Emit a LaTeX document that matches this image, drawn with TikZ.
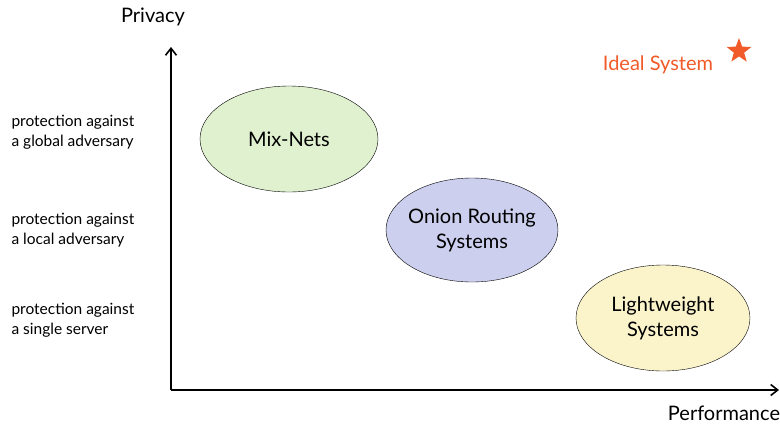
\documentclass[tikz,border=0pt]{standalone}
\usepackage{fontspec}
\setmainfont{Lato}
\usetikzlibrary{shapes.geometric,arrows.meta}
\definecolor{idealorange}{HTML}{F15A29}
\begin{document}
\begin{tikzpicture}[x=1pt, y=-1pt,
    system/.style={ellipse, draw, thin, minimum width=178pt, minimum height=106pt, inner xsep=-12pt, align=center, font=\fontsize{20}{25}\selectfont},
    level/.style={anchor=west, align=left, font=\fontsize{15.5}{20}\selectfont},
    axis/.style={line width=1.6pt, -{Straight Barb[length=7pt, width=11pt]}}]
    \useasboundingbox (0,0) rectangle (780,426);
    \coordinate (origin) at (171,390);
    \coordinate (ytop) at (171,47);
    \coordinate (xend) at (779,390);
    \draw[axis] (origin) -- (ytop);
    \draw[axis] (origin) -- (xend);
    \node[font=\fontsize{20}{24}\selectfont] (privacy) at (153,17) {Privacy};
    \node[font=\fontsize{20}{24}\selectfont] (performance) at (724,413) {Performance};
    \node[level] (global) at (8,132) {protection against\\a global adversary};
    \node[level] (local) at (8,230) {protection against\\a local adversary};
    \node[level] (single) at (8,320) {protection against\\a single server};
    \node[system, fill={rgb,255:red,224;green,241;blue,208}] (mixnets) at (289,139) {Mix-Nets};
    \node[system, fill={rgb,255:red,204;green,207;blue,238}, minimum width=172pt, minimum height=104pt] (onion) at (472,230) {Onion Routing\\Systems};
    \node[system, fill={rgb,255:red,251;green,244;blue,203}, minimum width=174pt] (light) at (663,318) {Lightweight\\Systems};
    \node[text=idealorange, font=\fontsize{20}{24}\selectfont] (ideal) at (658,65) {Ideal System};
    \node[star, star points=5, star point ratio=2.4, fill=idealorange, minimum size=26pt, inner sep=0pt] (star) at (739,51) {};
  \end{tikzpicture}
\end{document}
